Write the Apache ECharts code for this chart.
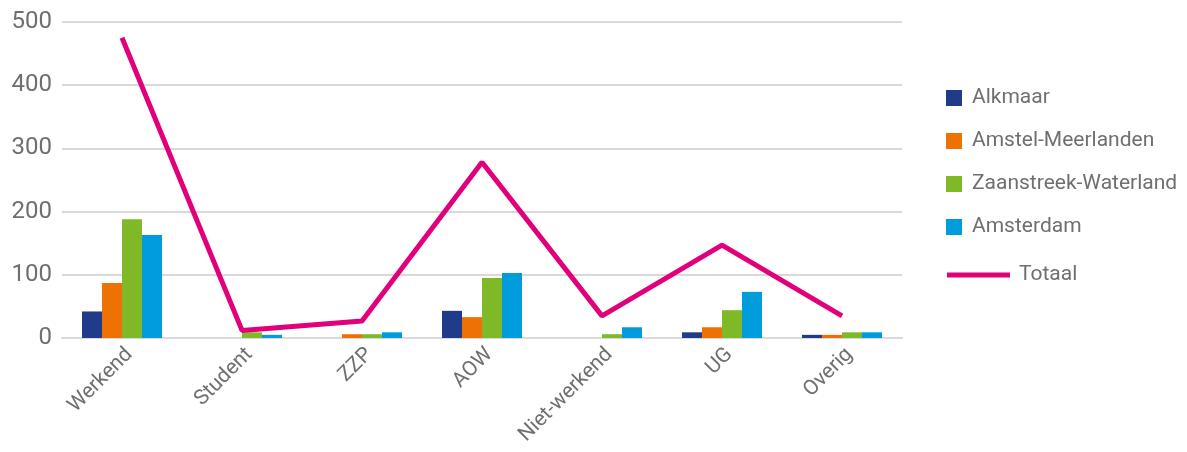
<!DOCTYPE html>
<html><head><meta charset="utf-8">
<script src="https://cdn.jsdelivr.net/npm/echarts@6/dist/echarts.min.js"></script>
<style>html,body{margin:0;padding:0;background:#fff}#c{width:1187px;height:452px}</style>
</head><body><div id="c"></div>
<script>
var categories = ['Werkend','Student','ZZP','AOW','Niet-werkend','UG','Overig'];
var alkmaar = [42, 0, 0, 43, 0, 9, 5];
var amstelMeerlanden = [87, 0, 6, 33, 0, 17, 5];
var zaanstreekWaterland = [188, 9, 6, 95, 6, 44, 9];
var amsterdam = [163, 5, 9, 103, 17, 73, 9];
var totaal = [475, 12, 27, 278, 35, 147, 35];
var yTicks = [0, 100, 200, 300, 400, 500];

var font = 'Roboto';
var txt = '#6f6f6f';
var chart = echarts.init(document.getElementById('c'));
function bar(name, data, color) {
  return {name: name, type: 'bar', data: data, barWidth: 20, barGap: '0%',
    itemStyle: {color: color}, animation: false};
}
chart.setOption({
  animation: false,
  textStyle: {fontFamily: font},
  grid: {left: 62, right: 285, top: 22, bottom: 114, containLabel: false},
  legend: [{
    data: ['Alkmaar','Amstel-Meerlanden','Zaanstreek-Waterland','Amsterdam'],
    orient: 'vertical', left: 946, top: 86, padding: 0, itemWidth: 16, itemHeight: 16, itemGap: 19,
    icon: 'rect',
    textStyle: {color: txt, fontSize: 21, fontFamily: font, padding: [0,0,0,5], lineHeight: 24}
  }, {
    data: ['Totaal'], orient: 'vertical', left: 947, top: 263, padding: 0, itemWidth: 63, itemHeight: 5,
    icon: 'rect',
    textStyle: {color: txt, fontSize: 21, fontFamily: font, padding: [0,0,0,4], lineHeight: 24}
  }],
  xAxis: {
    type: 'category', data: categories,
    axisLine: {show: true, lineStyle: {color: '#d9d9d9', width: 2}},
    axisTick: {show: false},
    axisLabel: {rotate: 45, color: txt, fontSize: 21, fontFamily: font, margin: 6, interval: 0,
      verticalAlign: 'top'}
  },
  yAxis: {
    type: 'value', min: yTicks[0], max: yTicks[yTicks.length-1], interval: 100,
    axisLine: {show: false}, axisTick: {show: false},
    axisLabel: {color: txt, fontSize: 24, fontFamily: font, margin: 10},
    splitLine: {lineStyle: {color: '#d9d9d9', width: 2}}
  },
  series: [
    bar('Alkmaar', alkmaar, '#1f3b8a'),
    bar('Amstel-Meerlanden', amstelMeerlanden, '#ee7203'),
    bar('Zaanstreek-Waterland', zaanstreekWaterland, '#80b927'),
    bar('Amsterdam', amsterdam, '#009cdc'),
    {name: 'Totaal', type: 'line', data: totaal, symbol: 'none', showSymbol: false,
     lineStyle: {color: '#e2007a', width: 5}, itemStyle: {color: '#e2007a'}, z: 5}
  ]
});
</script></body></html>
